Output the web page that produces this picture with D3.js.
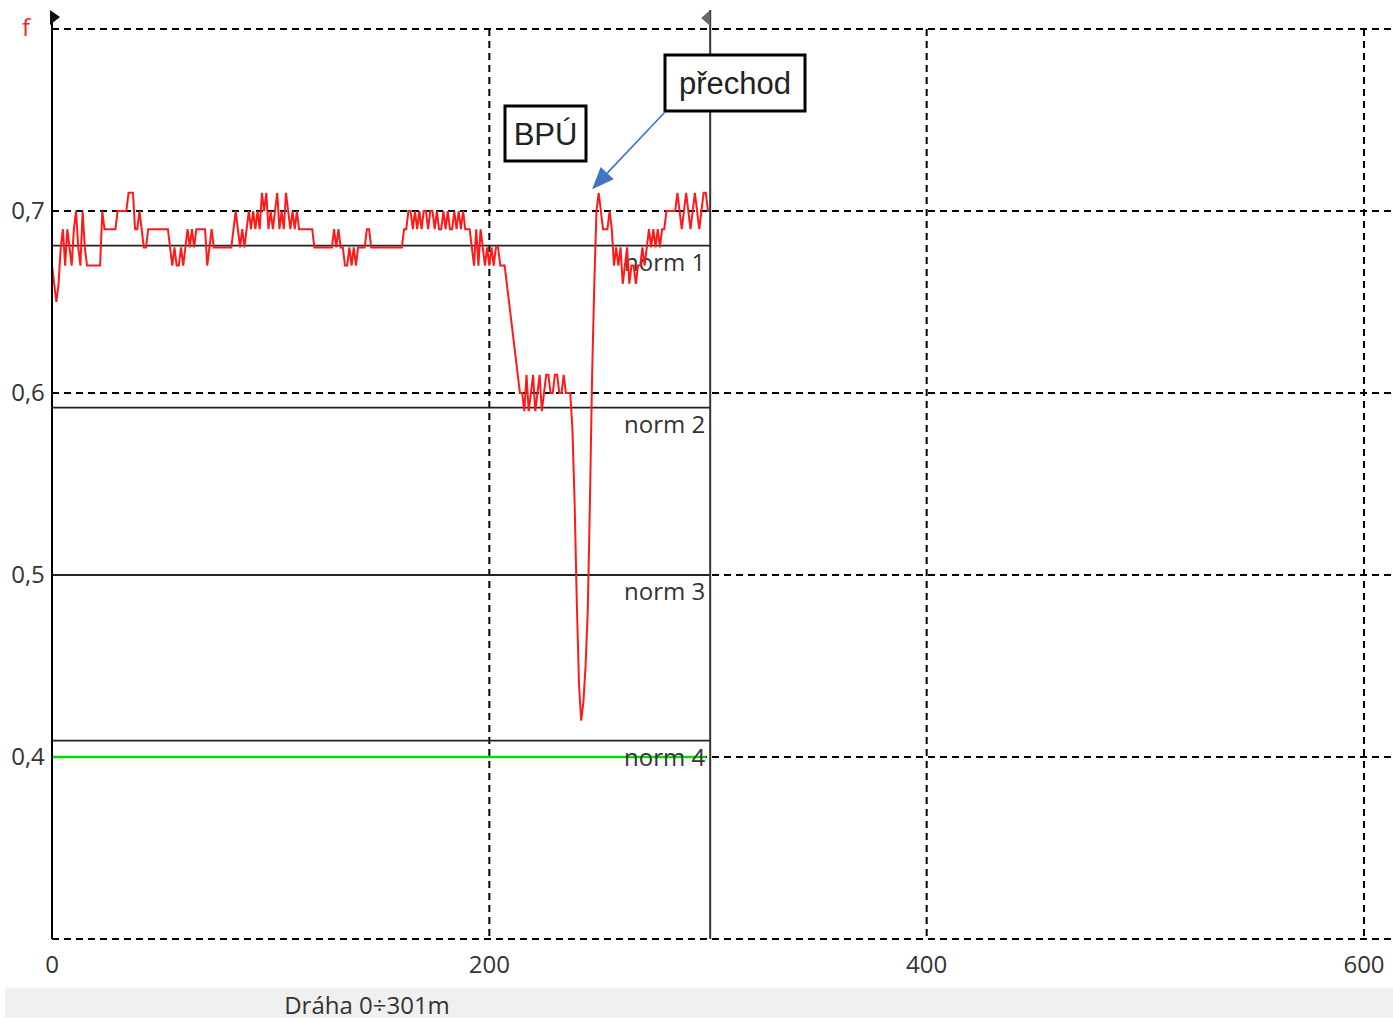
<!DOCTYPE html>
<html>
<head>
<meta charset="utf-8">
<script src="https://cdn.jsdelivr.net/npm/d3@7/dist/d3.min.js"></script>
<style>
  html, body { margin: 0; padding: 0; background: #fff; }
  svg { display: block; }
</style>
</head>
<body>
<svg id="chart" width="1393" height="1022"></svg>
<script>
// Friction coefficient f along the runway, one reading per metre (0..301 m)
const distance = d3.range(0, 302);
const fValues = [
  0.67, 0.66, 0.65, 0.66, 0.68, 0.69, 0.67, 0.69, 0.68, 0.67,
  0.69, 0.70, 0.68, 0.67, 0.70, 0.68, 0.67, 0.67, 0.67, 0.67,
  0.67, 0.67, 0.67, 0.70, 0.69, 0.69, 0.69, 0.69, 0.69, 0.69,
  0.70, 0.70, 0.70, 0.70, 0.70, 0.71, 0.71, 0.71, 0.69, 0.69,
  0.70, 0.69, 0.68, 0.68, 0.69, 0.69, 0.69, 0.69, 0.69, 0.69,
  0.69, 0.69, 0.69, 0.69, 0.68, 0.67, 0.68, 0.67, 0.67, 0.68,
  0.67, 0.68, 0.69, 0.68, 0.69, 0.68, 0.69, 0.69, 0.69, 0.69,
  0.69, 0.67, 0.68, 0.69, 0.68, 0.68, 0.68, 0.68, 0.68, 0.68,
  0.68, 0.68, 0.68, 0.69, 0.70, 0.69, 0.68, 0.69, 0.68, 0.69,
  0.70, 0.69, 0.70, 0.69, 0.70, 0.69, 0.71, 0.70, 0.71, 0.69,
  0.70, 0.69, 0.70, 0.71, 0.69, 0.70, 0.69, 0.71, 0.70, 0.69,
  0.70, 0.69, 0.70, 0.69, 0.69, 0.69, 0.69, 0.69, 0.69, 0.69,
  0.68, 0.68, 0.68, 0.68, 0.68, 0.68, 0.68, 0.68, 0.68, 0.69,
  0.68, 0.69, 0.68, 0.68, 0.67, 0.67, 0.68, 0.67, 0.68, 0.67,
  0.68, 0.68, 0.68, 0.68, 0.69, 0.69, 0.68, 0.68, 0.68, 0.68,
  0.68, 0.68, 0.68, 0.68, 0.68, 0.68, 0.68, 0.68, 0.68, 0.68,
  0.68, 0.69, 0.69, 0.70, 0.70, 0.69, 0.70, 0.69, 0.70, 0.69,
  0.70, 0.70, 0.69, 0.70, 0.70, 0.69, 0.70, 0.69, 0.69, 0.70,
  0.69, 0.70, 0.69, 0.69, 0.70, 0.69, 0.70, 0.69, 0.70, 0.69,
  0.69, 0.69, 0.68, 0.67, 0.69, 0.67, 0.69, 0.68, 0.67, 0.68,
  0.67, 0.68, 0.67, 0.68, 0.68, 0.67, 0.67, 0.67, 0.66, 0.65,
  0.64, 0.63, 0.62, 0.61, 0.60, 0.60, 0.59, 0.61, 0.59, 0.60,
  0.61, 0.59, 0.60, 0.61, 0.59, 0.60, 0.61, 0.61, 0.60, 0.60,
  0.61, 0.61, 0.60, 0.60, 0.61, 0.60, 0.60, 0.60, 0.58, 0.54,
  0.485, 0.44, 0.42, 0.43, 0.45, 0.48, 0.54, 0.61, 0.66, 0.70,
  0.71, 0.70, 0.69, 0.69, 0.69, 0.70, 0.69, 0.67, 0.68, 0.67,
  0.68, 0.66, 0.67, 0.68, 0.66, 0.67, 0.67, 0.66, 0.67, 0.67,
  0.68, 0.67, 0.68, 0.69, 0.68, 0.69, 0.68, 0.69, 0.68, 0.69,
  0.69, 0.70, 0.70, 0.70, 0.70, 0.70, 0.71, 0.70, 0.69, 0.70,
  0.71, 0.70, 0.69, 0.70, 0.71, 0.70, 0.69, 0.70, 0.71, 0.71,
  0.70, 0.70
];

// Threshold (norm) levels
const normNames = ["norm 1", "norm 2", "norm 3", "norm 4"];
const normValues = [0.681, 0.592, 0.500, 0.409];
const greenLevel = 0.40;

// Axes
const xTicks = [0, 200, 400, 600];
const xTickLabels = ["0", "200", "400", "600"];
const yTicks = [0.4, 0.5, 0.6, 0.7];
const yTickLabels = ["0,4", "0,5", "0,6", "0,7"];
const yGrid = [0.3, 0.4, 0.5, 0.6, 0.7, 0.8];
const runLength = 301;
const xAxisTitle = "Dráha 0÷301m";

const svg = d3.select("#chart");
const W = 1393;
const x = d3.scaleLinear().domain([0, 600]).range([52, 1364]);
const y = d3.scaleLinear().domain([0.3, 0.8]).range([939, 29]);

const uiFont = "'Open Sans', 'Noto Sans', sans-serif";
const textColor = "#333";

// Dashed grid
const grid = svg.append("g");
grid.selectAll("line.h").data(yGrid).join("line")
  .attr("x1", x(0)).attr("x2", W)
  .attr("y1", d => y(d)).attr("y2", d => y(d))
  .attr("stroke", "#000").attr("stroke-width", 2)
  .attr("stroke-dasharray", "7,5");
grid.selectAll("line.v").data(xTicks.slice(1)).join("line")
  .attr("x1", d => x(d)).attr("x2", d => x(d))
  .attr("y1", y(0.8)).attr("y2", y(0.3))
  .attr("stroke", "#000").attr("stroke-width", 2)
  .attr("stroke-dasharray", "7,5");

// Green reference level
svg.append("line")
  .attr("x1", x(0)).attr("x2", x(runLength) - 4)
  .attr("y1", y(greenLevel)).attr("y2", y(greenLevel))
  .attr("stroke", "#00dd00").attr("stroke-width", 2.5);

// Norm lines
const norms = svg.append("g");
norms.selectAll("line").data(normValues).join("line")
  .attr("x1", x(0)).attr("x2", x(runLength))
  .attr("y1", d => y(d)).attr("y2", d => y(d))
  .attr("stroke", "#222").attr("stroke-width", 1.8);

// Friction trace
const line = d3.line()
  .x((d, i) => x(distance[i]))
  .y(d => y(d))
  .curve(d3.curveLinear);
svg.append("path")
  .datum(fValues)
  .attr("d", line)
  .attr("fill", "none")
  .attr("stroke", "#ff1a1a")
  .attr("stroke-width", 2)
  .attr("stroke-linejoin", "miter");

// Norm labels
norms.selectAll("text").data(normValues).join("text")
  .attr("x", x(runLength) - 5)
  .attr("y", d => y(d) + 25)
  .attr("text-anchor", "end")
  .attr("font-family", uiFont)
  .attr("font-size", 24)
  .attr("fill", textColor)
  .text((d, i) => normNames[i]);

// Left axis line
svg.append("line")
  .attr("x1", x(0)).attr("x2", x(0))
  .attr("y1", 12).attr("y2", y(0.3))
  .attr("stroke", "#000").attr("stroke-width", 2);

// End-of-run cursor line
svg.append("line")
  .attr("x1", x(runLength)).attr("x2", x(runLength))
  .attr("y1", 10).attr("y2", y(0.3))
  .attr("stroke", "#333").attr("stroke-width", 2);

// Cursor flags at the top of both verticals
svg.append("path")
  .attr("d", `M${x(0) - 2},10 L${x(0) + 8},17 L${x(0) - 2},25 Z`)
  .attr("fill", "#111");
svg.append("path")
  .attr("d", `M${x(runLength)},10 L${x(runLength) - 9},18 L${x(runLength)},26 Z`)
  .attr("fill", "#666");

// Tick labels
svg.append("g").selectAll("text").data(yTicks).join("text")
  .attr("x", 28).attr("y", d => y(d) + 8)
  .attr("text-anchor", "middle")
  .attr("font-family", uiFont).attr("font-size", 24)
  .attr("fill", textColor)
  .text((d, i) => yTickLabels[i]);
svg.append("g").selectAll("text").data(xTicks).join("text")
  .attr("x", d => x(d)).attr("y", 973)
  .attr("text-anchor", "middle")
  .attr("font-family", uiFont).attr("font-size", 24)
  .attr("fill", textColor)
  .text((d, i) => xTickLabels[i]);

// Axis name
svg.append("text")
  .attr("x", 26).attr("y", 36)
  .attr("text-anchor", "middle")
  .attr("font-family", uiFont).attr("font-size", 24)
  .attr("fill", "#ff2020")
  .text("f");

// Status bar
svg.append("rect")
  .attr("x", 5).attr("y", 988).attr("width", W - 5).attr("height", 30)
  .attr("fill", "#f0f0f0");
svg.append("text")
  .attr("x", 367).attr("y", 1014)
  .attr("text-anchor", "middle")
  .attr("font-family", uiFont).attr("font-size", 24)
  .attr("fill", textColor)
  .text(xAxisTitle);

// Callouts
const boxFont = "'Liberation Sans', Arial, sans-serif";
function callout(label, bx, by, bw, bh) {
  svg.append("rect")
    .attr("x", bx).attr("y", by).attr("width", bw).attr("height", bh)
    .attr("fill", "#fff").attr("stroke", "#000").attr("stroke-width", 3);
  svg.append("text")
    .attr("x", bx + bw / 2).attr("y", by + bh / 2 + 11)
    .attr("text-anchor", "middle")
    .attr("font-family", boxFont).attr("font-size", 31)
    .attr("fill", "#222")
    .text(label);
}
callout("BPÚ", 505, 106, 81, 55);
callout("přechod", 665, 55, 140, 56);

// Arrow from the "přechod" box to the transition peak
const tipX = x(247), tipY = y(0.712);
const fromX = 665, fromY = 112;
const ang = Math.atan2(tipY - fromY, tipX - fromX);
const headLen = 22, headHalf = 9;
const baseX = tipX - headLen * Math.cos(ang), baseY = tipY - headLen * Math.sin(ang);
svg.append("line")
  .attr("x1", fromX).attr("y1", fromY).attr("x2", baseX).attr("y2", baseY)
  .attr("stroke", "#4472c4").attr("stroke-width", 1.6);
svg.append("path")
  .attr("d", `M${tipX},${tipY} L${baseX + headHalf * Math.sin(ang)},${baseY - headHalf * Math.cos(ang)} L${baseX - headHalf * Math.sin(ang)},${baseY + headHalf * Math.cos(ang)} Z`)
  .attr("fill", "#4472c4");
</script>
</body>
</html>
